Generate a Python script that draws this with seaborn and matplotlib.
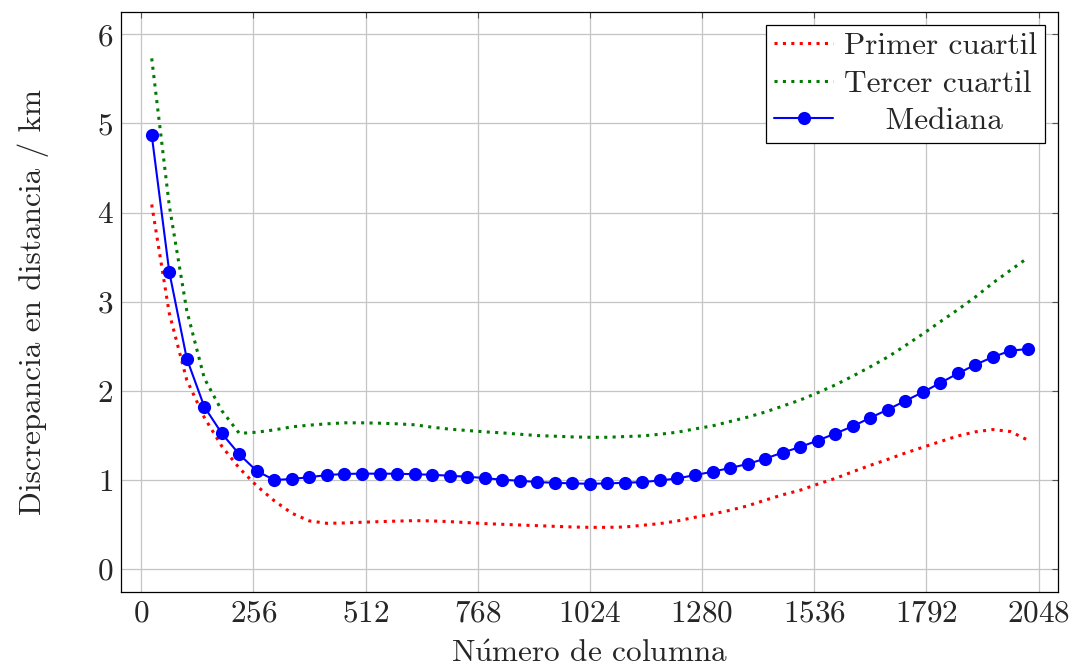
import numpy as np
import pandas as pd
import seaborn as sns
import matplotlib.pyplot as plt

# Column positions (one sample every 40 columns)
columna = np.arange(24, 2025, 40)

# Median of the distance discrepancy (km)
mediana = [4.87, 3.335, 2.36, 1.82, 1.52, 1.285, 1.097, 0.997, 1.009, 1.029,
           1.053, 1.065, 1.069, 1.068, 1.068, 1.062, 1.056, 1.045, 1.034, 1.019,
           1.000, 0.989, 0.974, 0.966, 0.959, 0.955, 0.959, 0.966, 0.974, 0.992,
           1.015, 1.053, 1.09, 1.132, 1.177, 1.237, 1.305, 1.368, 1.44, 1.519,
           1.60, 1.696, 1.788, 1.886, 1.983, 2.088, 2.193, 2.292, 2.378, 2.449,
           2.468]

# First quartile
primer = [4.09, 2.87, 2.12, 1.70, 1.376, 1.13, 0.93, 0.763, 0.624, 0.538,
          0.511, 0.515, 0.523, 0.53, 0.536, 0.541, 0.538, 0.53, 0.519, 0.508,
          0.5, 0.492, 0.485, 0.477, 0.47, 0.466, 0.466, 0.47, 0.489, 0.508,
          0.538, 0.579, 0.615, 0.658, 0.707, 0.771, 0.831, 0.883, 0.951, 1.015,
          1.09, 1.162, 1.229, 1.30, 1.365, 1.429, 1.492, 1.538, 1.564, 1.541,
          1.444]

# Third quartile
tercer = [5.73, 4.08, 2.9, 2.14, 1.775, 1.52, 1.534, 1.56, 1.594, 1.613,
          1.628, 1.639, 1.639, 1.635, 1.628, 1.617, 1.59, 1.568, 1.553, 1.538,
          1.526, 1.511, 1.496, 1.489, 1.481, 1.477, 1.477, 1.485, 1.492, 1.511,
          1.534, 1.571, 1.605, 1.654, 1.703, 1.76, 1.827, 1.895, 1.977, 2.064,
          2.163, 2.268, 2.378, 2.506, 2.637, 2.775, 2.91, 3.052, 3.21, 3.352,
          3.494]

xticks = [0, 256, 512, 768, 1024, 1280, 1536, 1792, 2048]
yticks = [0, 1, 2, 3, 4, 5, 6]

df = pd.DataFrame({"columna": columna, "mediana": mediana,
                   "primer": primer, "tercer": tercer})

sns.set_style("white")
plt.rcParams['font.family'] = ['cmr10', 'DejaVu Serif']
plt.rcParams['mathtext.fontset'] = 'cm'
plt.rcParams['axes.formatter.use_mathtext'] = True
fs = 22.5

fig, ax = plt.subplots(figsize=(10.75, 6.7), dpi=100)
fig.subplots_adjust(left=0.1126, right=0.984, bottom=0.1164, top=0.982)

dotted = (0, (1, 1.75))
sns.lineplot(data=df, x="columna", y="primer", ax=ax, color="#ff0000",
             linestyle=dotted, linewidth=2.2, label="Primer cuartil")
sns.lineplot(data=df, x="columna", y="tercer", ax=ax, color="#007a00",
             linestyle=dotted, linewidth=2.2, label="Tercer cuartil")
sns.lineplot(data=df, x="columna", y="mediana", ax=ax, color="#0000ff",
             linewidth=1.5, marker="o", markersize=9.5, markeredgecolor="#0000ff",
             markeredgewidth=0, label="Mediana")

ax.set_xlim(-46, 2092)
ax.set_ylim(-0.26, 6.25)
ax.set_xticks(xticks)
ax.set_yticks(yticks)
ax.grid(True, color="#c4c4c4", linewidth=0.9)
ax.set_axisbelow(True)
ax.tick_params(direction="in", length=4.5, width=0.8, color="#555555",
               top=True, right=True, labelsize=fs, pad=5.5)
for s in ax.spines.values():
    s.set_color("black")
    s.set_linewidth(0.9)

ax.set_xlabel(r"N$\acute{\mathrm{u}}$mero de columna", fontsize=fs, labelpad=9)
ax.set_ylabel("Discrepancia en distancia / km", fontsize=fs, labelpad=34)

leg = ax.legend(loc="upper right", fontsize=fs, frameon=True, fancybox=False,
                edgecolor="black", framealpha=1, borderaxespad=0.4,
                handlelength=1.9, handletextpad=0.35, labelspacing=0.3,
                borderpad=0.25)
leg.get_frame().set_linewidth(0.9)
leg.get_texts()[2].set_text("    Mediana")

fig.savefig("out.png", dpi=100)
